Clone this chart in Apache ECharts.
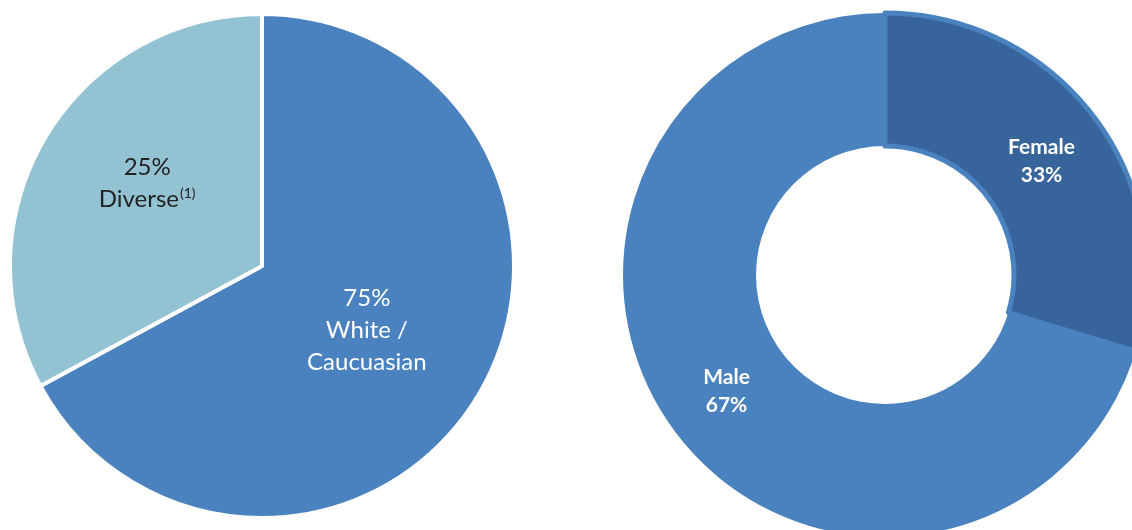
<!DOCTYPE html>
<html>
<head>
<meta charset="utf-8">
<script src="https://cdn.jsdelivr.net/npm/echarts@6/dist/echarts.min.js"></script>
<style>html,body{margin:0;padding:0;background:#fff;}#c{width:1132px;height:530px;}</style>
</head>
<body>
<div id="c"></div>
<script>
// Ethnicity pie (slice shares; label text as printed)
const ethnicityNames = ['White / Caucuasian', 'Diverse'];
const ethnicityShares = [67.1, 32.9];
const ethnicityLabels = ['75%', '25%'];
// Gender donut
const genderNames = ['Female', 'Male'];
const genderShares = [29.7, 70.3];
const genderLabels = ['33%', '67%'];

const BLUE = '#4A81BF', LIGHT = '#93C3D3', DARK = '#37649A';
const FONT = 'Lato, "Open Sans", sans-serif';

const chart = echarts.init(document.getElementById('c'));
chart.setOption({
  animation: false,
  series: [
    {
      type: 'pie',
      center: [262, 266],
      radius: [0, 252],
      startAngle: 90,
      clockwise: true,
      silent: true,
      itemStyle: { borderColor: '#fff', borderWidth: 4 },
      label: {
        show: true, position: 'inside', fontFamily: FONT, fontSize: 24, lineHeight: 32
      },
      labelLine: { show: false },
      data: [
        {
          name: ethnicityNames[0], value: ethnicityShares[0],
          itemStyle: { color: BLUE },
          label: { color: '#fff', offset: [-6, -2], formatter: ethnicityLabels[0] + '\nWhite /\nCaucuasian' }
        },
        {
          name: ethnicityNames[1], value: ethnicityShares[1],
          itemStyle: { color: LIGHT },
          label: {
            color: '#222', offset: [-4, -17],
            formatter: '{m|' + ethnicityLabels[1] + '}\n{m|Diverse}{s|(1)}',
            rich: {
              m: { fontFamily: FONT, fontSize: 24, lineHeight: 32, color: '#222' },
              s: { fontFamily: FONT, fontSize: 14, lineHeight: 32, color: '#222', padding: [0, 0, 12, 1] }
            }
          }
        }
      ]
    },
    {
      type: 'pie',
      center: [885, 275],
      radius: [129, 262],
      startAngle: 90,
      clockwise: true,
      silent: true,
      label: {
        show: true, position: 'inside', color: '#fff', fontFamily: FONT,
        fontWeight: 'bold', fontSize: 21, lineHeight: 28
      },
      labelLine: { show: false },
      data: [
        {
          name: genderNames[0], value: genderShares[0],
          itemStyle: { color: DARK, borderColor: BLUE, borderWidth: 5 },
          label: { offset: [-3, 4], formatter: genderNames[0] + '\n' + genderLabels[0] }
        },
        {
          name: genderNames[1], value: genderShares[1],
          itemStyle: { color: BLUE },
          label: { offset: [1, -2], formatter: genderNames[1] + '\n' + genderLabels[1] }
        }
      ]
    }
  ]
});
</script>
</body>
</html>
